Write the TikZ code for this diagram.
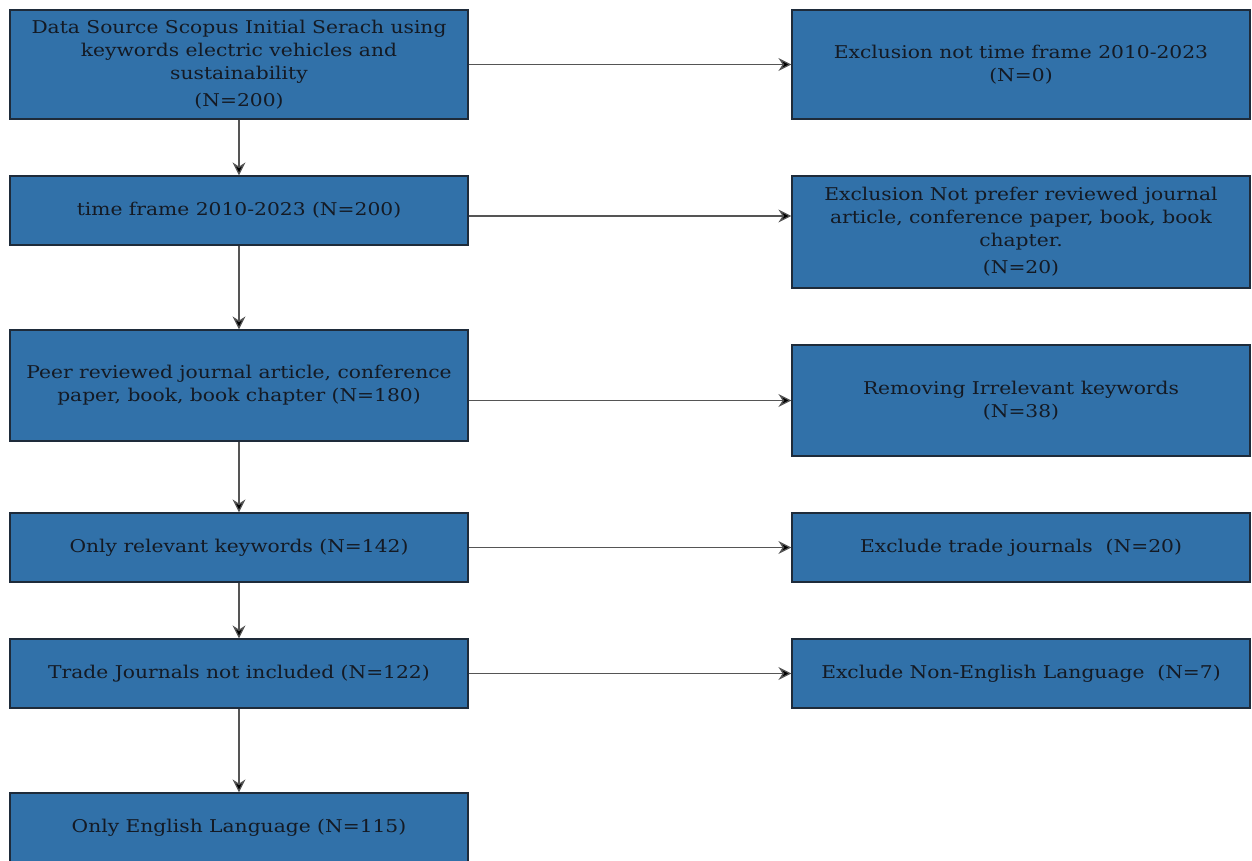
\documentclass[tikz,border=0pt]{standalone}
\usepackage{fontspec}
\setmainfont[FakeStretch=1.15]{DejaVu Serif}
\usetikzlibrary{arrows.meta}
\definecolor{boxfill}{HTML}{3171A9}
\definecolor{boxline}{HTML}{1E2B3A}
\definecolor{txt}{HTML}{141A24}
\definecolor{conn}{HTML}{555555}
\tikzset{
  flowbox/.style={draw=boxline, line width=0.6pt, fill=boxfill, text=txt, align=center,
    minimum width=229pt, inner sep=0pt,
    font=\fontsize{8.8pt}{11.5pt}\selectfont},
  conn/.style={draw=conn, line width=0.65pt, -{Stealth[length=6.5pt,width=6.5pt,fill=black]}}
}
\begin{document}
\begin{tikzpicture}[x=0.5pt,y=-0.5pt]
\useasboundingbox (0,0) rectangle (1252,861);
\begin{scope}
\clip (0,0) rectangle (1252,861);
% left column
\node[flowbox, minimum height=54.5pt] (b1) at (239,64.5) {Data Source Scopus Initial Serach using\\keywords electric vehicles and\\sustainability\\[2pt](N=200)};
\node[flowbox, minimum height=34.5pt] (b2) at (239,210.5) {time frame 2010-2023 (N=200)};
\node[flowbox, minimum height=55.5pt] (b3) at (239,385.5) {Peer reviewed journal article, conference\\paper, book, book chapter (N=180)};
\node[flowbox, minimum height=34.5pt] (b4) at (239,547.5) {Only relevant keywords (N=142)};
\node[flowbox, minimum height=34.5pt] (b5) at (239,673.5) {Trade Journals not included (N=122)};
\node[flowbox, minimum height=35pt] (b6) at (239,828) {Only English Language (N=115)};
% right column
\node[flowbox, minimum height=54.5pt] (r1) at (1021,64.5) {Exclusion not time frame 2010-2023\\(N=0)};
\node[flowbox, minimum height=56pt] (r2) at (1021,232) {Exclusion Not prefer reviewed journal\\article, conference paper, book, book\\chapter.\\[2pt](N=20)};
\node[flowbox, minimum height=55.5pt] (r3) at (1021,400.5) {Removing Irrelevant keywords\\(N=38)};
\node[flowbox, minimum height=34.5pt] (r4) at (1021,547.5) {Exclude trade journals~~(N=20)};
\node[flowbox, minimum height=34.5pt] (r5) at (1021,673.5) {Exclude Non-English Language~~(N=7)};
\end{scope}
% vertical connectors
\draw[conn] (b1) -- (b2);
\draw[conn] (b2) -- (b3);
\draw[conn] (b3) -- (b4);
\draw[conn] (b4) -- (b5);
\draw[conn] (b5) -- (b6);
% horizontal connectors
\draw[conn] (b1.east) -- (r1.west);
\draw[conn] (b2.east |- 0,216) -- (r2.west |- 0,216);
\draw[conn] (r3.west -| b3.east) -- (r3.west);
\draw[conn] (b4.east) -- (r4.west);
\draw[conn] (b5.east) -- (r5.west);
\end{tikzpicture}
\end{document}
